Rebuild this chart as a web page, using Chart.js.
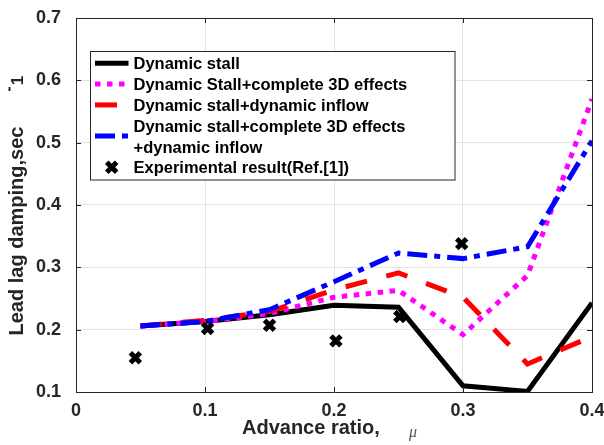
<!DOCTYPE html>
<html>
<head>
<meta charset="utf-8">
<script src="https://cdn.jsdelivr.net/npm/chart.js@4.4.1/dist/chart.umd.min.js"></script>
<style>
  html, body { margin: 0; padding: 0; background: #fff; }
  #dampingChart { display: block; }
</style>
</head>
<body>
<canvas id="dampingChart" width="604" height="445"></canvas>
<script>
// Advance ratio stations for the computed curves
const mu = [0.05, 0.1, 0.15, 0.2, 0.25, 0.3, 0.35, 0.4];

// Lead lag damping (1/sec) for each model
const dynStall = [0.206, 0.213, 0.224, 0.239, 0.236, 0.110, 0.101, 0.243];
const dynStall3d = [0.206, 0.213, 0.226, 0.252, 0.263, 0.192, 0.287, 0.570];
const dynStallInflow = [0.206, 0.215, 0.229, 0.264, 0.291, 0.252, 0.145, 0.189];
const dynStall3dInflow = [0.206, 0.213, 0.232, 0.277, 0.323, 0.314, 0.333, 0.503];

// Experimental points (Ref. [1])
const expMu = [0.046, 0.102, 0.150, 0.2015, 0.251, 0.299];
const expDamping = [0.155, 0.202, 0.207, 0.182, 0.221, 0.338];

// Axis ticks
const xTicks = [0, 0.1, 0.2, 0.3, 0.4];
const yTicks = [0.1, 0.2, 0.3, 0.4, 0.5, 0.6, 0.7];

const axisColor = '#262626';
const fontFamily = '"Liberation Sans", Arial, Helvetica, sans-serif';

function toPoints(xs, ys) {
    return xs.map((x, i) => ({ x: x, y: ys[i] }));
}

function fmtTick(value) {
    return value === 0 ? '0' : value.toFixed(1);
}

// Box, inner tick marks, legend and axis titles
const frameAndLegend = {
    id: 'frameAndLegend',
    afterDraw(chart) {
        const ctx = chart.ctx;
        const area = chart.chartArea;
        const xs = chart.scales.x;
        const ys = chart.scales.y;
        ctx.save();

        // top and right edges of the box
        ctx.strokeStyle = axisColor;
        ctx.lineWidth = 1;
        ctx.beginPath();
        ctx.moveTo(area.left, area.top + 0.5);
        ctx.lineTo(area.right + 0.5, area.top + 0.5);
        ctx.lineTo(area.right + 0.5, area.bottom);
        ctx.stroke();

        // tick marks pointing inward on all four sides
        const tl = 5;
        ctx.beginPath();
        xTicks.forEach(v => {
            const px = Math.round(xs.getPixelForValue(v)) + 0.5;
            ctx.moveTo(px, area.bottom); ctx.lineTo(px, area.bottom - tl);
            ctx.moveTo(px, area.top); ctx.lineTo(px, area.top + tl);
        });
        yTicks.forEach(v => {
            const py = Math.round(ys.getPixelForValue(v)) + 0.5;
            ctx.moveTo(area.left, py); ctx.lineTo(area.left + tl, py);
            ctx.moveTo(area.right, py); ctx.lineTo(area.right - tl, py);
        });
        ctx.stroke();

        // legend box
        const bx = 90.5, by = 51.5, bw = 364.5, bh = 128.5;
        ctx.fillStyle = '#fff';
        ctx.fillRect(bx, by, bw, bh);
        ctx.strokeStyle = axisColor;
        ctx.lineWidth = 1;
        ctx.strokeRect(bx, by, bw, bh);

        ctx.font = 'bold 16.5px ' + fontFamily;
        ctx.textAlign = 'left';
        ctx.textBaseline = 'alphabetic';
        let rowY = 63.3;
        const rowH = 20.8;
        chart.data.datasets.forEach(ds => {
            const lines = ds.label.split('\n');
            const midY = rowY + (lines.length - 1) * rowH / 2;
            if (ds.showLine === false) {
                ctx.strokeStyle = ds.borderColor;
                ctx.fillStyle = ds.borderColor;
                ctx.lineWidth = ds.pointBorderWidth;
                Chart.helpers.drawPoint(ctx, {
                    pointStyle: ds.pointStyle,
                    radius: ds.pointRadius,
                    rotation: 0,
                    borderWidth: ds.pointBorderWidth
                }, 111.7, midY);
            } else {
                ctx.strokeStyle = ds.borderColor;
                ctx.lineWidth = ds.borderWidth;
                ctx.lineCap = 'butt';
                ctx.setLineDash(ds.borderDash || []);
                ctx.lineDashOffset = 0;
                ctx.beginPath();
                ctx.moveTo(95, midY);
                ctx.lineTo(128.5, midY);
                ctx.stroke();
                ctx.setLineDash([]);
            }
            ctx.fillStyle = '#000';
            lines.forEach((line, k) => {
                ctx.fillText(line, 133.5, rowY + k * rowH + 6);
            });
            rowY += lines.length * rowH;
        });

        // x axis title
        ctx.fillStyle = axisColor;
        ctx.font = 'bold 20px ' + fontFamily;
        ctx.fillText('Advance ratio,', 242, 434.3);
        ctx.font = 'italic 16px "Liberation Serif", "DejaVu Serif", serif';
        ctx.fillStyle = '#555';
        ctx.fillText('\u03bc', 409, 437);

        // y axis title with the -1 exponent placed above
        ctx.fillStyle = axisColor;
        ctx.save();
        ctx.translate(22.5, 231);
        ctx.rotate(-Math.PI / 2);
        ctx.font = 'bold 20px ' + fontFamily;
        ctx.textAlign = 'center';
        ctx.fillText('Lead lag damping,sec', 0, 0);
        ctx.restore();

        ctx.save();
        ctx.translate(23, 84);
        ctx.rotate(-Math.PI / 2);
        ctx.font = 'bold 17px ' + fontFamily;
        ctx.textAlign = 'center';
        ctx.fillText('1', 3.5, 0);
        ctx.fillRect(-7, -14.5, 4, 2);
        ctx.restore();

        ctx.restore();
    }
};

new Chart(document.getElementById('dampingChart').getContext('2d'), {
    type: 'line',
    data: {
        datasets: [
            {
                label: 'Dynamic stall',
                data: toPoints(mu, dynStall),
                borderColor: '#000000',
                borderWidth: 5,
                order: 4
            },
            {
                label: 'Dynamic Stall+complete 3D effects',
                data: toPoints(mu, dynStall3d),
                borderColor: '#ff00ff',
                borderWidth: 5,
                borderDash: [5.5, 6.5],
                order: 3
            },
            {
                label: 'Dynamic stall+dynamic inflow',
                data: toPoints(mu, dynStallInflow),
                borderColor: '#ff0000',
                borderWidth: 5,
                borderDash: [22, 20],
                order: 2
            },
            {
                label: 'Dynamic stall+complete 3D effects\n+dynamic inflow',
                data: toPoints(mu, dynStall3dInflow),
                borderColor: '#0000ff',
                borderWidth: 5,
                borderDash: [20, 7, 6, 7],
                order: 1
            },
            {
                label: 'Experimental result(Ref.[1])',
                data: toPoints(expMu, expDamping),
                showLine: false,
                borderColor: '#000000',
                backgroundColor: '#000000',
                pointStyle: 'crossRot',
                pointRadius: 7,
                pointBorderWidth: 5,
                order: 0
            }
        ]
    },
    options: {
        responsive: false,
        animation: false,
        layout: {
            padding: { top: 18, right: 8, left: 0, bottom: 0 }
        },
        elements: {
            line: { tension: 0, fill: false, borderCapStyle: 'butt', borderJoinStyle: 'miter' },
            point: { radius: 0 }
        },
        plugins: {
            legend: { display: false },
            tooltip: { enabled: false }
        },
        scales: {
            x: {
                type: 'linear',
                min: 0,
                max: 0.4,
                afterBuildTicks: scale => { scale.ticks = xTicks.map(v => ({ value: v })); },
                afterFit: scale => {
                    scale.height = 53;
                    scale.paddingLeft = 0;
                    scale.paddingRight = 0;
                },
                grid: { color: '#e3e3e3', lineWidth: 1, drawTicks: false },
                border: { display: true, color: axisColor, width: 1 },
                ticks: {
                    color: axisColor,
                    padding: 8,
                    maxRotation: 0,
                    font: { family: fontFamily, size: 18, weight: 'bold' },
                    callback: fmtTick
                }
            },
            y: {
                type: 'linear',
                min: 0.1,
                max: 0.7,
                afterBuildTicks: scale => { scale.ticks = yTicks.map(v => ({ value: v })); },
                afterFit: scale => {
                    scale.width = 76;
                    scale.paddingTop = 0;
                    scale.paddingBottom = 0;
                },
                grid: { color: '#e3e3e3', lineWidth: 1, drawTicks: false },
                border: { display: true, color: axisColor, width: 1 },
                ticks: {
                    color: axisColor,
                    padding: 15,
                    font: { family: fontFamily, size: 18, weight: 'bold' },
                    callback: fmtTick
                }
            }
        }
    },
    plugins: [frameAndLegend]
});
</script>
</body>
</html>
